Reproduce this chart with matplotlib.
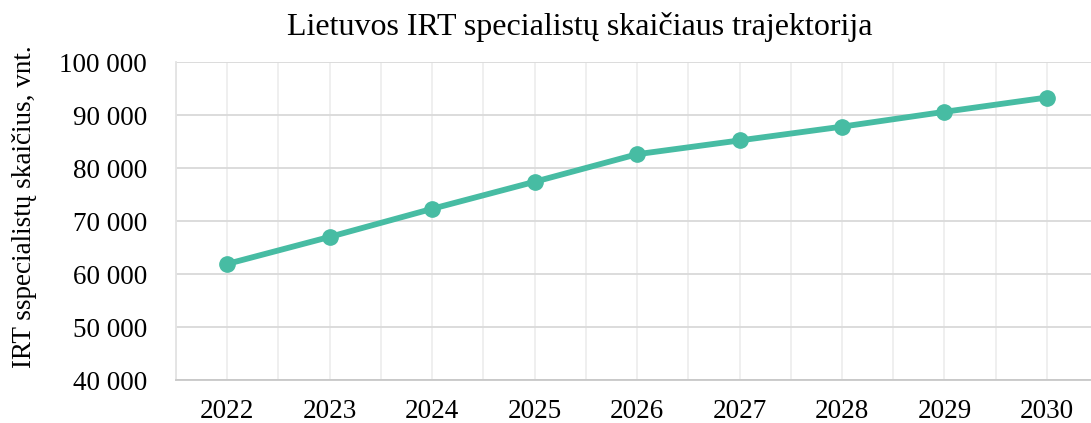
import numpy as np
import matplotlib.pyplot as plt
from matplotlib.ticker import FuncFormatter, MultipleLocator

years = [2022, 2023, 2024, 2025, 2026, 2027, 2028, 2029, 2030]
specialists = [61900, 67000, 72300, 77400, 82600, 85200, 87800, 90600, 93300]

plt.rcParams['font.family'] = ['Liberation Serif', 'DejaVu Serif']

fig = plt.figure(figsize=(10.91, 4.23), dpi=100)
ax = fig.add_axes([176 / 1091, 43 / 423, 915 / 1091, 318 / 423])

ax.plot(years, specialists, color='#47bca3', lw=4.2, marker='o', ms=11, zorder=3)

ax.set_xlim(2021.5, 2030.43)
ax.set_ylim(40000, 100000)
ax.set_xticks(years)
ax.xaxis.set_minor_locator(MultipleLocator(0.5))
ax.yaxis.set_major_locator(MultipleLocator(10000))
ax.yaxis.set_major_formatter(FuncFormatter(lambda v, p: f"{int(v):,}".replace(",", " ")))

ax.grid(axis='y', which='major', color='#d9d9d9', lw=1.3)
ax.grid(axis='x', which='both', color='#eeeeee', lw=1.3)
ax.set_axisbelow(True)

for s in ['top', 'right']:
    ax.spines[s].set_visible(False)
ax.spines['left'].set_color('#e3e3e3')
ax.spines['left'].set_linewidth(1.3)
ax.spines['bottom'].set_color('#c8c8c8')
ax.spines['bottom'].set_linewidth(1.3)

ax.tick_params(axis='both', which='both', length=0, labelsize=19.5)
ax.tick_params(axis='y', pad=21)
ax.tick_params(axis='x', pad=14)

fig.text(25 / 1091, (423 - 207) / 423, 'IRT sspecialistų skaičius, vnt.', rotation=90,
         ha='center', va='center', fontsize=19.5)
fig.text(580 / 1091, (423 - 27) / 423, 'Lietuvos IRT specialistų skaičiaus trajektorija',
         ha='center', va='center', fontsize=23)

fig.savefig('out.png', dpi=100)
